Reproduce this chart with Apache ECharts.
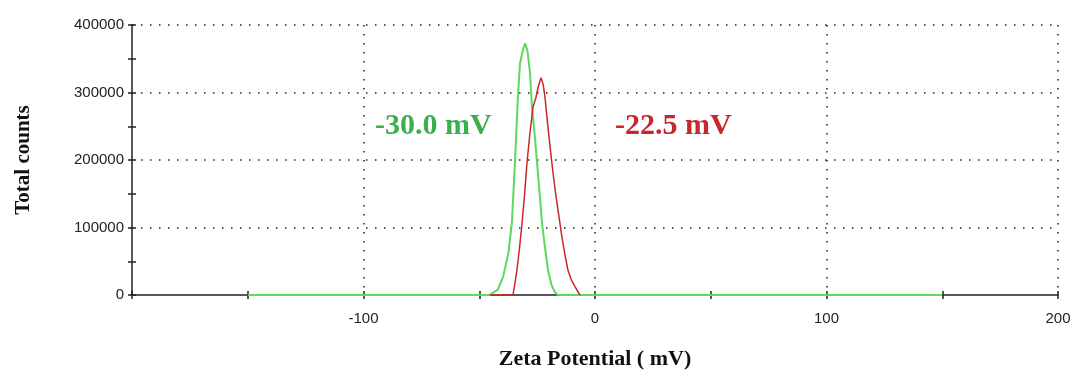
<!DOCTYPE html>
<html>
<head>
<meta charset="utf-8">
<script src="https://cdn.jsdelivr.net/npm/echarts@6/dist/echarts.min.js"></script>
<style>
  html, body { margin: 0; padding: 0; background: #fff; }
  #chart { width: 1075px; height: 385px; }
</style>
</head>
<body>
<div id="chart"></div>
<script>
// zeta potential distributions
const greenX = [-150, -45.5, -42, -39.7, -37.5, -35.9, -34.6, -33.3, -32.4, -31.2, -30.2, -29.2, -28.1, -27.2, -26, -25, -23.9, -22.9, -21.6, -20.3, -18.8, -17.3, -16, 150];
const greenY = [0, 0, 8000, 27000, 60000, 107000, 195000, 293000, 343000, 362000, 373000, 362000, 330000, 278000, 235000, 195000, 150000, 107000, 70000, 37000, 15000, 4000, 0, 0];

const redX = [-45.5, -35.4, -33.7, -32.6, -31.5, -30.4, -29.4, -28.1, -26.8, -25.5, -24.4, -23.3, -22.4, -21.6, -20.5, -19.4, -18.1, -16.8, -15.5, -14.3, -13, -11.7, -10.2, -8.6, -6.5];
const redY = [0, 0, 37000, 70000, 107000, 150000, 195000, 240000, 278000, 293000, 310000, 322000, 312000, 293000, 255000, 219000, 180000, 145000, 115000, 86000, 60000, 37000, 22000, 12000, 0];

const xTicks = [-100, 0, 100, 200];
const yTicks = [0, 100000, 200000, 300000, 400000];
const greenLabel = '-30.0 mV';
const redLabel = '-22.5 mV';

const pairs = (xs, ys) => xs.map((x, i) => [x, ys[i]]);

const chart = echarts.init(document.getElementById('chart'));
const dotted = { color: '#222', width: 1.5, type: [1.5, 7.5] };
const tickFont = { color: '#222', fontFamily: 'Liberation Sans', fontSize: 15 };
const titleFont = { color: '#111', fontFamily: 'Liberation Serif', fontWeight: 'bold' };

chart.setOption({
  animation: false,
  grid: { left: 132, right: 17, top: 25, bottom: 90 },
  xAxis: [
    {
      type: 'value', min: -200, max: 200, interval: 50, z: 5,
      axisLine: { onZero: false, lineStyle: { color: '#222', width: 1.5 } },
      axisTick: { length: 4, lineStyle: { color: '#222', width: 1.5 } },
      axisLabel: {
        ...tickFont, margin: 16,
        formatter: v => (xTicks.includes(v) ? String(v) : '')
      },
      splitLine: { show: false },
      name: 'Zeta Potential ( mV)', nameLocation: 'middle', nameGap: 53,
      nameTextStyle: { ...titleFont, fontSize: 22 }
    },
    {
      type: 'value', min: -200, max: 200, interval: 50, position: 'bottom', z: 5,
      axisLine: { show: false, onZero: false },
      axisTick: { inside: true, length: 4, lineStyle: { color: '#222', width: 1.5 } },
      axisLabel: { show: false }, splitLine: { show: false }
    },
    {
      type: 'value', min: -200, max: 200, interval: 100, position: 'bottom',
      axisLine: { show: false, onZero: false }, axisTick: { show: false },
      axisLabel: { show: false },
      splitLine: { show: true, showMinLine: false, lineStyle: dotted }
    }
  ],
  yAxis: [
    {
      type: 'value', min: 0, max: 400000, interval: 50000, z: 5,
      axisLine: { show: true, onZero: false, lineStyle: { color: '#222', width: 1.5 } },
      axisTick: { show: true, length: 4, lineStyle: { color: '#222', width: 1.5 } },
      axisLabel: {
        ...tickFont, margin: 8,
        formatter: v => (yTicks.includes(v) ? String(v) : '')
      },
      splitLine: { show: false },
      name: 'Total counts', nameLocation: 'middle', nameGap: 98,
      nameTextStyle: { ...titleFont, fontSize: 21 }
    },
    {
      type: 'value', min: 0, max: 400000, interval: 50000, position: 'left', z: 5,
      axisLine: { show: false, onZero: false },
      axisTick: { show: true, inside: true, length: 4, lineStyle: { color: '#222', width: 1.5 } },
      axisLabel: { show: false }, splitLine: { show: false }
    },
    {
      type: 'value', min: 0, max: 400000, interval: 100000, position: 'left',
      axisLine: { show: false, onZero: false }, axisTick: { show: false },
      axisLabel: { show: false },
      splitLine: { show: true, showMinLine: false, lineStyle: dotted }
    }
  ],
  graphic: [
    {
      type: 'text', left: 375, top: 111,
      style: { text: greenLabel, fill: '#3aaf4c', font: 'bold 30px "Liberation Serif"' }
    },
    {
      type: 'text', left: 615, top: 111,
      style: { text: redLabel, fill: '#c8282d', font: 'bold 30px "Liberation Serif"' }
    }
  ],
  series: [
    {
      type: 'line', data: pairs(greenX, greenY), symbol: 'none', z: 8,
      lineStyle: { color: '#5ed85e', width: 2 }
    },
    {
      type: 'line', data: pairs(redX, redY), symbol: 'none', z: 9,
      lineStyle: { color: '#c8282d', width: 1.5 }
    }
  ]
});
</script>
</body>
</html>
